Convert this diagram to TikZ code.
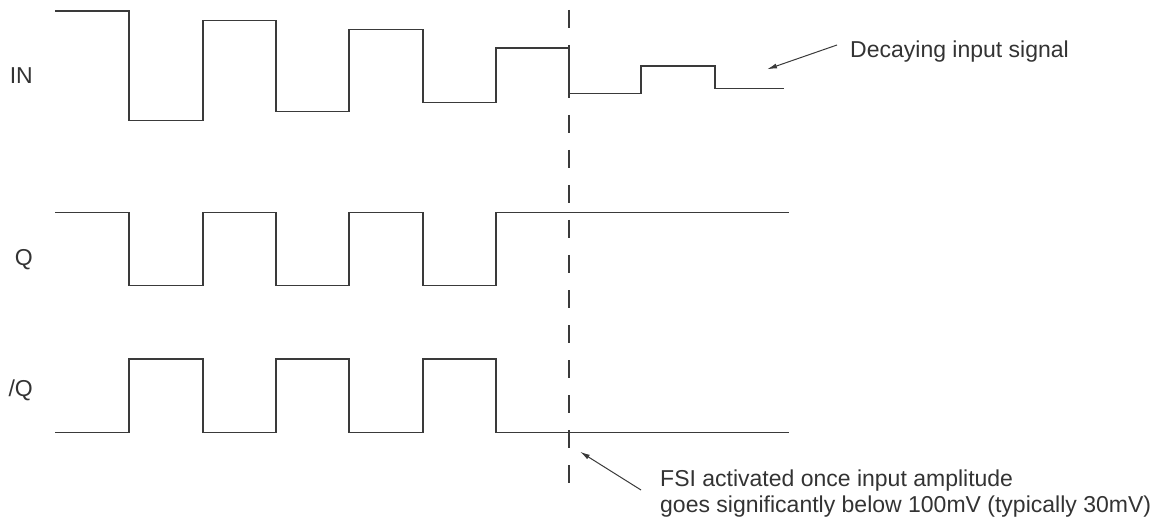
\documentclass[tikz,border=0pt]{standalone}
\usepackage{fontspec}
\setmainfont{Liberation Sans}
\usetikzlibrary{arrows.meta}
\definecolor{ink}{HTML}{3A3A3A}
\definecolor{txt}{HTML}{333333}
\begin{document}
\begin{tikzpicture}[x=1pt,y=-1pt,
  wave/.style={draw=ink,line width=1.2pt,line join=miter},
  marker/.style={draw=ink,line width=1.2pt,dash pattern=on 18pt off 17pt},
  pointer/.style={draw=ink,line width=1pt,-{Latex[length=10pt,width=5pt]}},
  lbl/.style={font=\fontsize{23}{26}\selectfont,text=txt,inner sep=0pt}]
\useasboundingbox (0,0) rectangle (1161,521);
% labels
\node[lbl,anchor=base east] (lin) at (33,83.3) {IN};
\node[lbl,anchor=base east] (lq) at (33,265.5) {Q};
\node[lbl,anchor=base east] (lnq) at (33,396.5) {/Q};
% IN waveform
\draw[wave] (55,11) -- (129,11) -- (129,120.7) -- (203,120.7) -- (203,20.7)
  -- (276,20.7) -- (276,111.7) -- (349,111.7) -- (349,29.7) -- (423,29.7)
  -- (423,102.7) -- (496,102.7) -- (496,48) -- (569,48) -- (569,93.7)
  -- (641,93.7) -- (641,66) -- (715,66) -- (715,88.7) -- (784,88.7);
% Q waveform
\draw[wave] (55,212.7) -- (129,212.7) -- (129,285.7) -- (203,285.7) -- (203,212.7)
  -- (276,212.7) -- (276,285.7) -- (349,285.7) -- (349,212.7) -- (423,212.7)
  -- (423,285.7) -- (496,285.7) -- (496,212.7) -- (789,212.7);
% /Q waveform
\draw[wave] (55,432.3) -- (129,432.3) -- (129,359) -- (203,359) -- (203,432.3)
  -- (276,432.3) -- (276,359) -- (349,359) -- (349,432.3) -- (423,432.3)
  -- (423,359) -- (496,359) -- (496,432.3) -- (789,432.3);
% dashed marker
\coordinate (mtop) at (569,10);
\coordinate (mbot) at (569,486);
\draw[marker] (mtop) -- (mbot);
% annotations
\node[lbl,anchor=base west] (decay) at (850,57.3) {Decaying input signal};
\node[lbl,anchor=base west] (fsiA) at (660,486) {FSI activated once input amplitude};
\node[lbl,anchor=base west] (fsiB) at (660,512) {goes significantly below 100mV (typically 30mV)};
\coordinate (decaytail) at (837,45);
\coordinate (decaytip) at (767,69.3);
\coordinate (fsitail) at (641,490);
\coordinate (fsitip) at (580,451.7);
\draw[pointer] (decaytail) -- (decaytip);
\draw[pointer] (fsitail) -- (fsitip);
\end{tikzpicture}
\end{document}
